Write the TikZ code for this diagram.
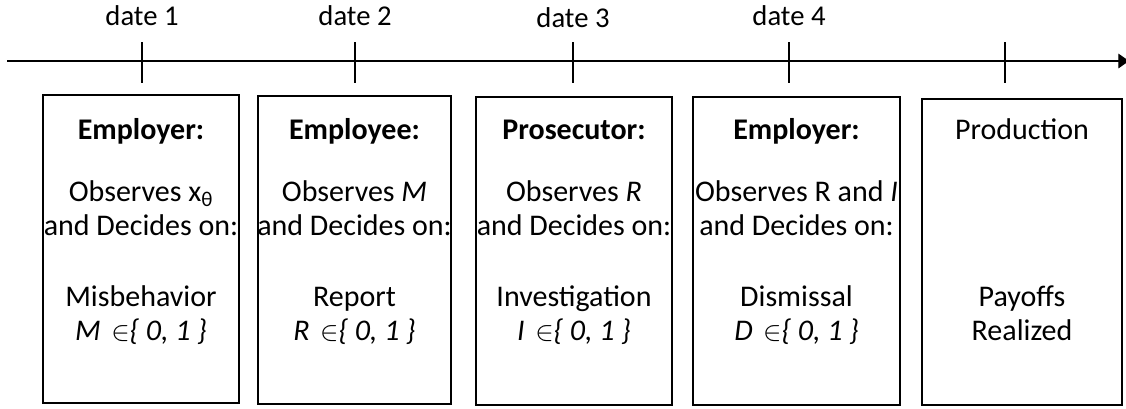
\documentclass[tikz,border=0pt]{standalone}
\usepackage{fontspec}
\setmainfont{Carlito}
\usetikzlibrary{arrows.meta}
\newcommand{\inset}[1]{\textit{#1}\hspace{0.35em}$\in$\textit{\{ 0, 1 \}}}
\begin{document}
\begin{tikzpicture}[x=0.75pt,y=-0.75pt,
  txt/.style={inner sep=0pt,anchor=center,text height=0.68em,text depth=0.2em,font=\fontsize{22.5}{27}\selectfont},
  datelbl/.style={inner sep=0pt,anchor=center,text height=0.68em,text depth=0.2em,font=\fontsize{21.5}{26}\selectfont},
  stagebox/.style={draw,line width=1.1pt},
  tick/.style={line width=0.9pt},
  axis/.style={line width=0.9pt,-{Triangle[length=8pt,width=11pt]}}]
\useasboundingbox (0,0) rectangle (1126,408);
% axis
\coordinate (a0) at (7,61);
\coordinate (a1) at (1129,61);
\draw[axis] (a0) -- (a1);
% ticks
\foreach \i/\x in {1/142,2/355,3/573,4/789,5/1005}{
  \coordinate (t\i a) at (\x,42);
  \coordinate (t\i b) at (\x,83);
  \draw[tick] (t\i a) -- (t\i b);
}
\node[datelbl] (d1) at (142,22) {date 1};
\node[datelbl] (d2) at (355,22) {date 2};
\node[datelbl] (d3) at (573,24) {date 3};
\node[datelbl] (d4) at (789,22) {date 4};
% boxes
\draw[stagebox] (43,95) rectangle (239,403);
\draw[stagebox] (258,96) rectangle (451,404);
\draw[stagebox] (476,97) rectangle (672,405);
\draw[stagebox] (693,97) rectangle (900,405);
\draw[stagebox] (922,99) rectangle (1122,405);
% box 1
\node[txt] (b1l1) at (141,136) {\textbf{Employer:}};
\node[txt] (b1l2) at (141,198) {Observes x\textsubscript{θ}};
\node[txt] (b1l3) at (141,232) {and Decides on:};
\node[txt] (b1l4) at (141,303) {Misbehavior};
\node[txt] (b1l5) at (141,337) {\inset{M}};
% box 2
\node[txt] (b2l1) at (354.5,136) {\textbf{Employee:}};
\node[txt] (b2l2) at (354.5,198) {Observes \textit{M}};
\node[txt] (b2l3) at (354.5,232) {and Decides on:};
\node[txt] (b2l4) at (354.5,303) {Report};
\node[txt] (b2l5) at (354.5,337) {\inset{R}};
% box 3
\node[txt] (b3l1) at (574,136) {\textbf{Prosecutor:}};
\node[txt] (b3l2) at (574,198) {Observes \textit{R}};
\node[txt] (b3l3) at (574,232) {and Decides on:};
\node[txt] (b3l4) at (574,303) {Investigation};
\node[txt] (b3l5) at (574,337) {\inset{I}};
% box 4
\node[txt] (b4l1) at (796.5,136) {\textbf{Employer:}};
\node[txt] (b4l2) at (796.5,198) {Observes R and \textit{I}};
\node[txt] (b4l3) at (796.5,232) {and Decides on:};
\node[txt] (b4l4) at (796.5,303) {Dismissal};
\node[txt] (b4l5) at (796.5,337) {\inset{D}};
% box 5
\node[txt] (b5l1) at (1022,136) {Production};
\node[txt] (b5l4) at (1022,303) {Payoffs};
\node[txt] (b5l5) at (1022,337) {Realized};
\end{tikzpicture}
\end{document}
